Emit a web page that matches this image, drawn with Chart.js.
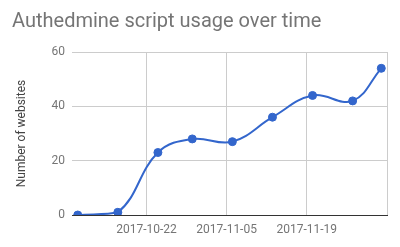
<!DOCTYPE html>
<html>
<head>
<meta charset="utf-8">
<script src="https://cdn.jsdelivr.net/npm/chart.js@4/dist/chart.umd.min.js"></script>
<style>
  html, body { margin: 0; padding: 0; background: #fff; }
  #wrap { width: 400px; height: 247px; }
</style>
</head>
<body>
<div id="wrap"><canvas id="myChart" width="400" height="247"></canvas></div>
<script>
// Data
const dates = ['2017-10-10', '2017-10-17', '2017-10-24', '2017-10-30', '2017-11-06',
  '2017-11-13', '2017-11-20', '2017-11-27', '2017-12-02'];
const websites = [0, 1, 23, 28, 27, 36, 44, 42, 54];
const xTickDates = ['2017-10-22', '2017-11-05', '2017-11-19', '2017-12-03'];
const xTickLabels = ['2017-10-22', '2017-11-05', '2017-11-19', ''];
const yTicks = [0, 20, 40, 60];

const DAY = 86400000;
const toDay = (s) => Date.parse(s + 'T00:00:00Z') / DAY;
const xMin = toDay('2017-10-09');
const xMax = toDay('2017-12-03');

const blue = '#3366cc';
const font = "Roboto, 'Noto Sans', Arial, sans-serif";

const ctx = document.getElementById('myChart').getContext('2d');
const myChart = new Chart(ctx, {
  type: 'line',
  data: {
    datasets: [
      {
        data: dates.map((d, i) => ({ x: toDay(d), y: websites[i] })),
        borderColor: blue,
        backgroundColor: blue,
        borderWidth: 2,
        tension: 0.4,
        pointRadius: 4,
        pointBorderWidth: 1,
        pointBorderColor: blue,
        pointBackgroundColor: blue,
        clip: 0,
      },
    ],
  },
  options: {
    responsive: false,
    animation: false,
    layout: { padding: { left: 12, right: 13, top: 10, bottom: 0 } },
    plugins: {
      legend: { display: false },
      tooltip: { enabled: false },
      title: {
        display: true,
        text: 'Authedmine script usage over time',
        align: 'start',
        color: '#757575',
        font: { family: font, size: 20, weight: 'normal' },
        padding: { top: 0, bottom: 18 },
      },
    },
    scales: {
      x: {
        type: 'linear',
        min: xMin,
        max: xMax,
        afterBuildTicks: (scale) => {
          scale.ticks = xTickDates.map((d) => ({ value: toDay(d) }));
        },
        afterFit: (scale) => {
          scale.height = 32;
        },
        ticks: {
          color: '#757575',
          font: { family: font, size: 12 },
          padding: 8,
          maxRotation: 0,
          autoSkip: false,
          callback: (value, index) => xTickLabels[index],
        },
        grid: { color: '#cccccc', drawTicks: false },
        border: { display: true, color: '#333333', width: 1 },
      },
      y: {
        min: 0,
        max: 60,
        afterBuildTicks: (scale) => {
          scale.ticks = yTicks.map((v) => ({ value: v }));
        },
        afterFit: (scale) => {
          scale.width = 60;
        },
        ticks: {
          color: '#757575',
          font: { family: font, size: 12 },
          padding: 7,
        },
        grid: { color: '#cccccc', drawTicks: false },
        border: { display: false },
        title: {
          display: true,
          text: 'Number of websites',
          color: '#444444',
          font: { family: font, size: 12 },
          padding: { top: 3, bottom: 0 },
        },
      },
    },
  },
});
</script>
</body>
</html>
